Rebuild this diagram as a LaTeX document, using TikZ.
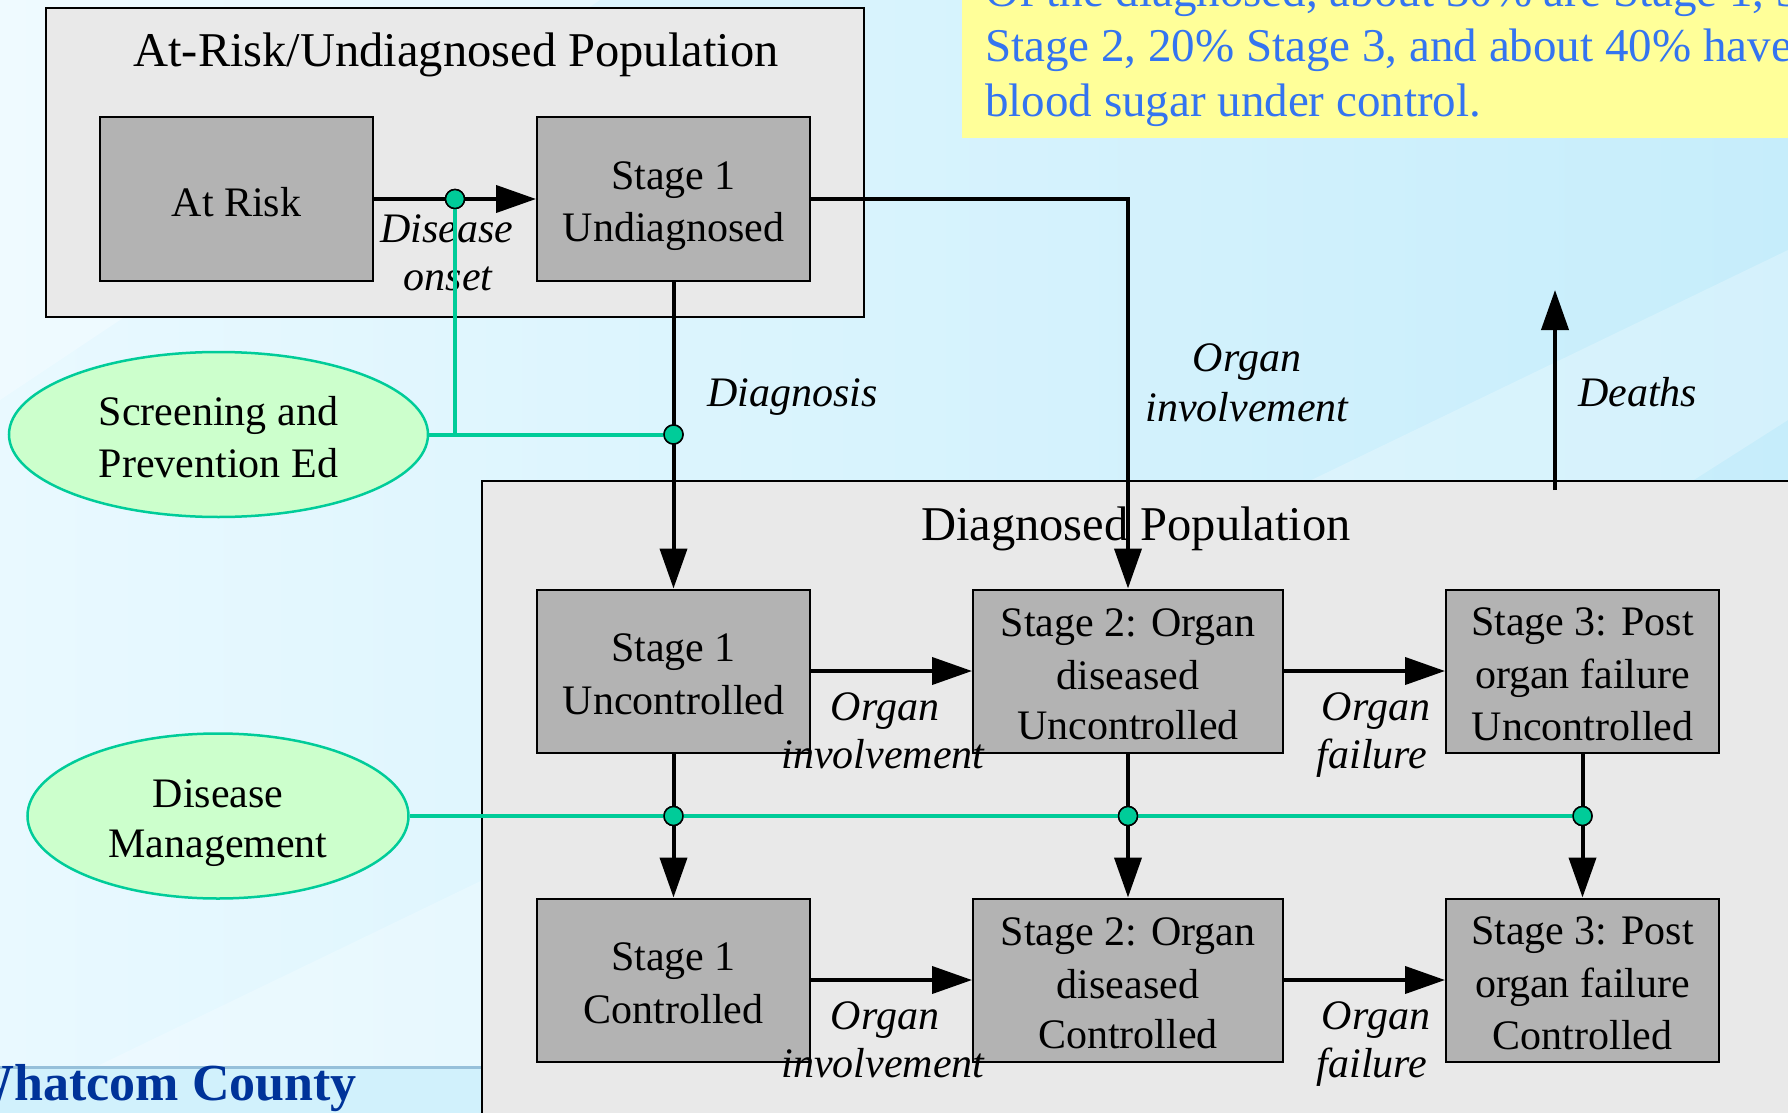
\documentclass[tikz,border=0pt]{standalone}
\usepackage{fontspec}
\setmainfont{Liberation Serif}
\usetikzlibrary{arrows.meta,shapes.geometric,calc}
\definecolor{bgL}{RGB}{233,249,255}
\definecolor{bgR}{RGB}{198,237,251}
\definecolor{panel}{RGB}{233,233,233}
\definecolor{boxgray}{RGB}{179,179,179}
\definecolor{ellfill}{RGB}{204,255,204}
\definecolor{grn}{RGB}{0,204,153}
\definecolor{yel}{RGB}{255,255,153}
\definecolor{ytext}{RGB}{52,116,240}
\definecolor{wblue}{RGB}{0,51,153}
\definecolor{rule}{RGB}{150,192,218}
\newcommand{\ms}{\rule[-8pt]{0pt}{50pt}}
\begin{document}
\begin{tikzpicture}[x=1pt,y=-1pt,
  stagebox/.style={draw, line width=2pt, fill=boxgray, inner sep=0pt, align=center,
    font=\fontsize{42}{50}\selectfont},
  panelbox/.style={draw, line width=2pt, fill=panel},
  ellbox/.style={ellipse, draw=grn, line width=2.5pt, fill=ellfill, inner sep=0pt,
    align=center, font=\fontsize{42}{50}\selectfont},
  lbl/.style={font=\itshape\fontsize{42}{49}\selectfont, inner sep=0pt},
  ttl/.style={font=\fontsize{48.5}{56}\selectfont, inner sep=0pt},
  ytx/.style={font=\fontsize{47}{55}\selectfont, text=ytext, inner sep=0pt, anchor=base west},
  arr/.style={line width=4pt, -{Triangle[length=40pt,width=27pt]}},
  gline/.style={line width=4pt, draw=grn},
  gdot/.style={circle, draw=black, line width=1.5pt, fill=grn, minimum size=19pt, inner sep=0pt}
]
\useasboundingbox (0,0) rectangle (1788,1113);
\clip (0,0) rectangle (1788,1113);
% background
\shade[left color=bgL, right color=bgR] (0,0) rectangle (1788,1113);
\fill[white, opacity=0.25] (0,1113) -- (700,1113) -- (1788,420) -- (1788,250) -- cycle;
\fill[white, opacity=0.2] (1300,1113) -- (1600,1113) -- (1788,900) -- (1788,700) -- cycle;
\fill[white, opacity=0.3] (0,0) -- (600,0) -- (0,400) -- cycle;
\fill[bgR!80!white] (0,1067) rectangle (482,1113);
\draw[rule, line width=3pt] (0,1067) -- (482,1067);
\node[anchor=base east, font=\bfseries\fontsize{52}{60}\selectfont, text=wblue, inner sep=0pt] (wc) at (357,1100) {Whatcom County};

% yellow note
\fill[yel] (962,-10) rectangle (1800,138);
\node[ytx] (y1) at (985,7) {Of the diagnosed, about 30\% are Stage 1, 30\%};
\node[ytx] (y2) at (985,62) {Stage 2, 20\% Stage 3, and about 40\% have};
\node[ytx] (y3) at (985,117) {blood sugar under control.};

% panels
\draw[panelbox] (45.5,8) rectangle (864,316.5);
\draw[panelbox] (482,481) rectangle (1810,1130);
\node[ttl, anchor=base] (t1) at (456,67) {At-Risk/Undiagnosed Population};
\node[ttl, anchor=base] (t2) at (1136,540) {Diagnosed Population};

% stage boxes
\node[stagebox, minimum width=273pt, minimum height=164pt] (atrisk) at (236.5,199) {\ms At Risk};
\node[stagebox, minimum width=273pt, minimum height=164pt] (s1u) at (673.5,199) {\ms Stage 1\\\ms Undiagnosed};
\node[stagebox, minimum width=273pt, minimum height=163pt] (s1n) at (673.5,671) {\ms Stage 1\\\ms Uncontrolled};
\node[stagebox, minimum width=310pt, minimum height=163pt] (s2n) at (1128,671) {\ms Stage 2: Organ\\\ms diseased\\\ms Uncontrolled};
\node[stagebox, minimum width=273pt, minimum height=163pt] (s3n) at (1582.5,671) {\ms Stage 3: Post\\\ms organ failure\\\ms Uncontrolled};
\node[stagebox, minimum width=273pt, minimum height=163pt] (s1c) at (673.5,980) {\ms Stage 1\\\ms Controlled};
\node[stagebox, minimum width=310pt, minimum height=163pt] (s2c) at (1128,980) {\ms Stage 2: Organ\\\ms diseased\\\ms Controlled};
\node[stagebox, minimum width=273pt, minimum height=163pt] (s3c) at (1582.5,980) {\ms Stage 3: Post\\\ms organ failure\\\ms Controlled};

% ellipses
\node[ellbox, minimum width=419pt, minimum height=165pt] (scr) at (218.5,434.5) {\ms Screening and\\\ms Prevention Ed};
\node[ellbox, minimum width=381pt, minimum height=165pt] (dm) at (218,816) {\ms Disease\\\ms Management};

% labels
\node[lbl, anchor=base] (l1a) at (447,242) {Disease};
\node[lbl, anchor=base] (l1b) at (448,290) {onset};
\node[lbl, anchor=base west] (l2) at (707,406) {Diagnosis};
\node[lbl, anchor=base] (l3a) at (1247,371) {Organ};
\node[lbl, anchor=base] (l3b) at (1247,421) {involvement};
\node[lbl, anchor=base west] (l4) at (1578,406) {Deaths};
\node[lbl, anchor=base] (l5a) at (885,720) {Organ};
\node[lbl, anchor=base] (l5b) at (883,768) {involvement};
\node[lbl, anchor=base] (l6a) at (1376,720) {Organ};
\node[lbl, anchor=base] (l6b) at (1372,768) {failure};
\node[lbl, anchor=base] (l7a) at (885,1029) {Organ};
\node[lbl, anchor=base] (l7b) at (883,1077) {involvement};
\node[lbl, anchor=base] (l8a) at (1376,1029) {Organ};
\node[lbl, anchor=base] (l8b) at (1372,1077) {failure};

% black arrows
\draw[arr] (atrisk.east) -- (s1u.west);
\draw[arr] (s1u.south) -- (s1n.north);
\draw[arr] (s1u.east) -| (s2n.north);
\draw[arr] (s1n.east) -- (s2n.west);
\draw[arr] (s2n.east) -- (s3n.west);
\draw[arr] (s1c.east) -- (s2c.west);
\draw[arr] (s2c.east) -- (s3c.west);
\draw[arr] (s1n.south) -- (s1c.north);
\draw[arr] (s2n.south) -- (s2c.north);
\draw[arr] (s3n.south) -- (s3c.north);
\coordinate (dA) at (1555,490);
\coordinate (dB) at (1555,290);
\draw[arr] (dA) -- (dB);

% green control lines and junction dots
\node[gdot] (g0) at (455,199) {};
\node[gdot] (g1) at (673.5,434.5) {};
\node[gdot] (g2) at (673.5,816) {};
\node[gdot] (g3) at (1128,816) {};
\node[gdot] (g4) at (1582.5,816) {};
\coordinate (jA) at (455,434.5);
\draw[gline] (scr.east) -- (g1.center);
\draw[gline] (jA) -- (g0.center);
\draw[gline] (dm.east) -- (g4.center);
\foreach \d in {g0,g1,g2,g3,g4} {\node[gdot] at (\d) {};}
\end{tikzpicture}
\end{document}
